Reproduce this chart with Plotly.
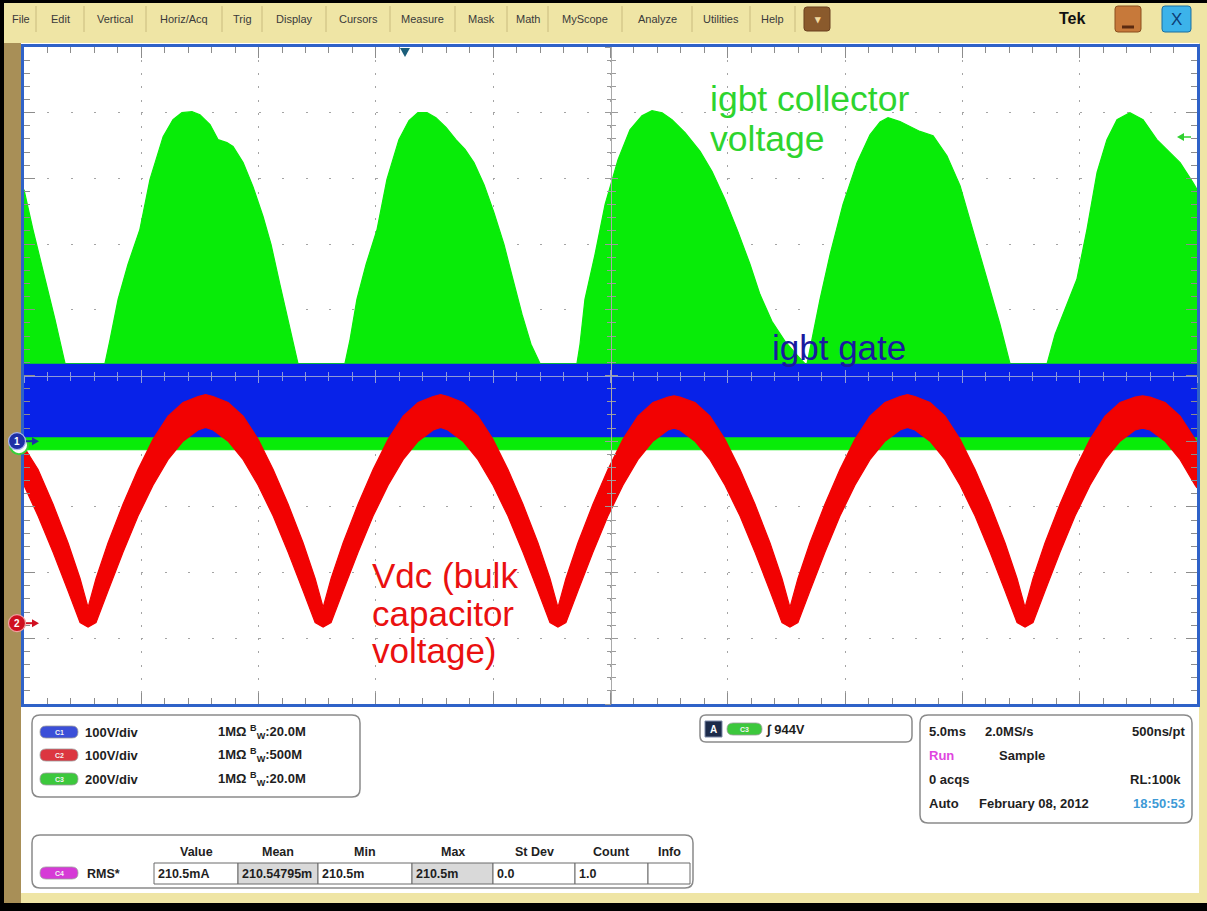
import plotly.graph_objects as go

W, H = 1207, 911

# ---------------- data ----------------
ms_per_div = 5.0          # horizontal scale
record_ms = 50.0          # 10 divisions

# channel settings: volts/div and ground marker position (divisions from centre)
c1_vdiv, c1_pos = 100, -1.00   # blue  : igbt gate
c2_vdiv, c2_pos = 100, -3.77   # red   : Vdc (bulk capacitor voltage)
c3_vdiv, c3_pos = 200, -1.06   # green : igbt collector

# green: upper envelope of the collector voltage (ms, V)
green_t = [0.00, 0.38, 0.90, 1.32, 1.75,
           3.45, 3.67, 4.01, 4.43, 4.94, 5.37, 5.93, 6.35, 6.73, 7.16, 7.50, 7.93, 8.27, 8.65, 8.91, 9.34, 9.76, 10.19, 10.53, 10.91, 11.30, 11.68,
           13.68, 13.90, 14.19, 14.58, 15.05, 15.47, 15.98, 16.41, 16.79, 17.18, 17.56, 17.99, 18.41, 18.80, 19.18, 19.61, 20.03, 20.46, 20.84, 21.23, 21.61, 22.00,
           23.57, 23.70, 23.91, 24.34, 24.77, 25.32, 25.83, 26.34, 26.77, 27.20, 27.62, 28.18, 28.82, 29.33, 29.88, 30.43, 30.95, 31.37, 31.88, 32.44, 32.95, 33.29,
           33.38, 33.59, 33.93, 34.36, 34.91, 35.51, 36.06, 36.49, 36.83, 37.34, 38.19, 38.75, 39.34, 39.90, 40.45, 41.05, 41.60, 42.03,
           43.61, 43.95, 44.37, 44.88, 45.31, 45.74, 46.16, 46.59, 47.14, 47.70, 48.29, 48.72, 49.28, 49.83, 50.00]
green_hi = [778, 657, 505, 383, 248,
            248, 322, 444, 550, 657, 809, 939, 991, 1012, 1015, 1006, 976, 930, 921, 909, 860, 787, 696, 611, 489, 368, 248,
            248, 322, 444, 550, 657, 809, 930, 988, 1012, 1012, 997, 967, 930, 900, 860, 793, 708, 611, 505, 398, 307, 248,
            248, 307, 444, 581, 733, 869, 960, 1003, 1018, 1012, 991, 951, 894, 833, 748, 650, 550, 459, 377, 316, 274, 248,
            248, 322, 444, 581, 733, 860, 945, 984, 997, 985, 955, 942, 881, 790, 657, 505, 368, 248,
            248, 337, 413, 505, 657, 830, 930, 991, 1012, 991, 930, 900, 860, 799, 778]
# green: lower edge of the switching band
green_lo_t = [0.0, 50.0]
green_lo = [-14, -14]

# blue: gate drive band
blue_t = [0.0, 50.0]
blue_hi = [117, 117]
blue_lo = [7, 7]

# red: Vdc ripple band (upper / lower envelope)
red_t = [0.00, 0.60, 1.24, 1.88, 2.39,
         2.73, 3.07, 3.58, 4.22, 4.86, 5.50, 6.14, 6.78, 7.42, 7.74, 8.06, 8.70, 9.34, 9.98, 10.62, 11.26, 11.90, 12.41,
         12.75, 13.09, 13.60, 14.24, 14.88, 15.52, 16.16, 16.80, 17.44, 17.76, 18.07, 18.71, 19.35, 19.99, 20.63, 21.27, 21.91, 22.42,
         22.76, 23.10, 23.61, 24.25, 24.89, 25.53, 26.17, 26.81, 27.45, 27.71, 27.96, 28.60, 29.24, 29.88, 30.52, 31.16, 31.80, 32.31,
         32.65, 32.99, 33.50, 34.14, 34.78, 35.42, 36.06, 36.70, 37.34, 37.66, 37.98, 38.62, 39.26, 39.90, 40.54, 41.18, 41.82, 42.33,
         42.67, 43.01, 43.52, 44.16, 44.80, 45.44, 46.08, 46.72, 47.36, 47.68, 48.00, 48.64, 49.28, 49.92, 50.00]
red_hi = [268, 234, 181, 122, 68,
          24, 68, 122, 181, 234, 280, 315, 336, 345, 348, 345, 336, 315, 280, 234, 181, 122, 68,
          24, 68, 122, 181, 234, 280, 315, 336, 345, 348, 345, 336, 315, 280, 234, 181, 122, 68,
          24, 68, 122, 181, 234, 280, 315, 336, 344, 346, 344, 336, 315, 280, 234, 181, 122, 68,
          24, 68, 122, 181, 234, 280, 315, 336, 345, 348, 345, 336, 315, 280, 234, 181, 122, 68,
          24, 68, 122, 181, 234, 280, 315, 336, 344, 346, 344, 336, 315, 280, 274]
red_lo = [210, 163, 108, 49, 1,
          -6, 1, 49, 108, 163, 210, 249, 277, 294, 298, 294, 277, 249, 210, 163, 108, 49, 1,
          -6, 1, 49, 108, 163, 210, 249, 277, 294, 298, 294, 277, 249, 210, 163, 108, 49, 1,
          -6, 1, 49, 108, 163, 210, 249, 277, 294, 297, 294, 277, 249, 210, 163, 108, 49, 1,
          -6, 1, 49, 108, 163, 210, 249, 277, 294, 298, 294, 277, 249, 210, 163, 108, 49, 1,
          -6, 1, 49, 108, 163, 210, 249, 277, 294, 297, 294, 277, 249, 210, 206]

menu_items = ["File", "Edit", "Vertical", "Horiz/Acq", "Trig", "Display", "Cursors",
              "Measure", "Mask", "Math", "MyScope", "Analyze", "Utilities", "Help"]
ch_names = ["C1", "C2", "C3"]
ch_vdiv_text = ["100V/div", "100V/div", "200V/div"]
ch_bw_text = ["20.0M", "500M", "20.0M"]
meas_headers = ["Value", "Mean", "Min", "Max", "St Dev", "Count", "Info"]
meas_values = ["210.5mA", "210.54795m", "210.5m", "210.5m", "0.0", "1.0", ""]

# ---------------- helpers ----------------
FONT = "Liberation Sans, Arial, sans-serif"
shapes, annos = [], []


def X(x):
    return x / W


def Y(y):
    return 1 - y / H


def rect(x0, y0, x1, y1, fill, line=None, lw=0, layer="below"):
    shapes.append(dict(type="rect", xref="paper", yref="paper",
                       x0=X(x0), x1=X(x1), y0=Y(y1), y1=Y(y0),
                       fillcolor=fill, line=dict(color=line or fill, width=lw), layer=layer))


def rrect(x0, y0, x1, y1, r, fill, line=None, lw=0, layer="below"):
    def P(x, y):
        return f"{X(x):.5f},{Y(y):.5f}"
    path = (f"M{P(x0 + r, y0)} L{P(x1 - r, y0)} Q{P(x1, y0)} {P(x1, y0 + r)} "
            f"L{P(x1, y1 - r)} Q{P(x1, y1)} {P(x1 - r, y1)} L{P(x0 + r, y1)} "
            f"Q{P(x0, y1)} {P(x0, y1 - r)} L{P(x0, y0 + r)} Q{P(x0, y0)} {P(x0 + r, y0)} Z")
    shapes.append(dict(type="path", xref="paper", yref="paper", path=path,
                       fillcolor=fill, line=dict(color=line or fill, width=lw), layer=layer))


def poly(pts, fill, line=None, lw=0, layer="above"):
    path = "M" + " L".join(f"{X(x):.5f},{Y(y):.5f}" for x, y in pts) + " Z"
    shapes.append(dict(type="path", xref="paper", yref="paper", path=path,
                       fillcolor=fill, line=dict(color=line or fill, width=lw), layer=layer))


def seg(x0, y0, x1, y1, color, lw=1, layer="below"):
    shapes.append(dict(type="line", xref="paper", yref="paper",
                       x0=X(x0), x1=X(x1), y0=Y(y0), y1=Y(y1),
                       line=dict(color=color, width=lw), layer=layer))


def circ(cx, cy, r, fill, line, lw=1, layer="above"):
    shapes.append(dict(type="circle", xref="paper", yref="paper",
                       x0=X(cx - r), x1=X(cx + r), y0=Y(cy + r), y1=Y(cy - r),
                       fillcolor=fill, line=dict(color=line, width=lw), layer=layer))


def txt(x, y, s, size=13, color="#1e1e1e", weight=700, anchor="left"):
    annos.append(dict(xref="paper", yref="paper", x=X(x), y=Y(y), text=s, showarrow=False,
                      xanchor=anchor, yanchor="middle", borderpad=0,
                      font=dict(family=FONT, size=size, color=color, weight=weight)))


def pill(x0, x1, yc, color, label):
    rrect(x0, yc - 6, x1, yc + 6, 6, color, "#9a9a9a", 0.8)
    txt((x0 + x1) / 2, yc, label, size=7, color="#f4f4f4", anchor="center")


# ---------------- frame / background ----------------
rect(0, 0, W, 3, "#000000")
rect(0, 0, 4, H, "#000000")
rect(0, 903, W, H, "#000000")
rect(4, 43, 21, 903, "#a88f57")
rect(21, 43, 1199, 893, "#ffffff")

# menu bar
seps = [36, 84, 146, 222, 262, 326, 390, 455, 507, 548, 622, 692, 750, 795]
edges = [5] + seps
for i, name in enumerate(menu_items):
    txt((edges[i] + edges[i + 1]) / 2, 19, name, size=11, color="#3a3a3a", weight=400, anchor="center")
for s in seps:
    seg(s, 6, s, 32, "#c9bb7e", 1)
rrect(804, 7, 830, 31, 3, "#8a5a2c", "#6a4020", 1)
txt(817, 19, "▾", size=11, color="#f2d9a0", weight=700, anchor="center")
txt(1072, 18, "Tek", size=16, color="#111111", weight=700, anchor="center")
rrect(1115, 6, 1141, 32, 3, "#c7793a", "#8a4f1e", 1)
seg(1122, 27, 1134, 27, "#5a2a10", 3)
rrect(1162, 6, 1191, 32, 3, "#3cb3ea", "#1b6fa0", 1)
txt(1176.5, 20, "X", size=17, color="#0d3d75", weight=400, anchor="center")

# ---------------- plot geometry ----------------
xd = [24 / W, 1197 / W]
yd = [1 - 704 / H, 1 - 47 / H]
xc = (xd[0] + xd[1]) / 2
yc = (yd[0] + yd[1]) / 2
div_px_x = (1197 - 24) / 10
div_px_y = (704 - 47) / 10

fig = go.Figure()

fig.add_trace(go.Scatter(x=green_t + green_lo_t[::-1], y=green_hi + green_lo[::-1],
                         mode="lines", fill="toself", fillcolor="#08ec08",
                         line=dict(color="#08ec08", width=1.2), xaxis="x", yaxis="y2",
                         hoverinfo="skip", name="C3"))
fig.add_trace(go.Scatter(x=blue_t + blue_t[::-1], y=blue_hi + blue_lo[::-1],
                         mode="lines", fill="toself", fillcolor="#0822e8",
                         line=dict(color="#0822e8", width=1.2), xaxis="x", yaxis="y3",
                         hoverinfo="skip", name="C1"))
fig.add_trace(go.Scatter(x=red_t + red_t[::-1], y=red_hi + red_lo[::-1],
                         mode="lines", fill="toself", fillcolor="#f20202",
                         line=dict(color="#f20202", width=1.2), xaxis="x", yaxis="y4",
                         hoverinfo="skip", name="C2"))
# empty traces that only carry the graticule axes
for xa, ya in [("x", "y"), ("x", "y5"), ("x", "y6"), ("x2", "y"), ("x3", "y")]:
    fig.add_trace(go.Scatter(x=[], y=[], xaxis=xa, yaxis=ya, hoverinfo="skip"))

TICK = "#8c8c8c"
BORDER = "#2f62c8"
base = dict(showticklabels=False, zeroline=False, fixedrange=True)

xaxis = dict(base, domain=xd, range=[0, record_ms], tick0=0, dtick=ms_per_div,
             showgrid=True, gridcolor="#a4a4a4", gridwidth=1,
             griddash=f"2px,{div_px_y / 5 - 2:.2f}px",
             ticks="inside", ticklen=11, tickwidth=1, tickcolor=TICK,
             minor=dict(dtick=ms_per_div / 5, ticks="inside", ticklen=6, tickcolor=TICK, showgrid=False),
             showline=True, linecolor=BORDER, linewidth=3, mirror="ticks", anchor="y")
yaxis = dict(base, domain=yd, range=[-5, 5], tick0=0, dtick=1,
             showgrid=True, gridcolor="#a4a4a4", gridwidth=1,
             griddash=f"2px,{div_px_x / 5 - 2:.2f}px",
             ticks="inside", ticklen=11, tickwidth=1, tickcolor=TICK,
             minor=dict(dtick=0.2, ticks="inside", ticklen=6, tickcolor=TICK, showgrid=False),
             showline=True, linecolor=BORDER, linewidth=3, mirror="ticks", anchor="x")


def ch_axis(vdiv, pos):
    return dict(base, overlaying="y", range=[(-5 - pos) * vdiv, (5 - pos) * vdiv], visible=False)


centre_y = dict(base, overlaying="y", anchor="free", position=xc, range=[-5, 5], tick0=0, dtick=1,
                showgrid=False, showline=True, linecolor="#a9a9a9", linewidth=1,
                ticklen=6, tickcolor="#9a9a9a",
                minor=dict(dtick=0.2, ticklen=4, tickcolor="#9a9a9a", showgrid=False))
centre_x = dict(base, overlaying="x", anchor="free", position=yc, range=[0, record_ms], tick0=0,
                dtick=ms_per_div, showgrid=False, showline=True, linecolor="#8e9ad8", linewidth=1,
                ticklen=6, tickcolor="#8e9ad8",
                minor=dict(dtick=ms_per_div / 5, ticklen=4, tickcolor="#8e9ad8", showgrid=False))

fig.update_layout(
    xaxis=xaxis, yaxis=yaxis,
    yaxis2=ch_axis(c3_vdiv, c3_pos),
    yaxis3=ch_axis(c1_vdiv, c1_pos),
    yaxis4=ch_axis(c2_vdiv, c2_pos),
    yaxis5=dict(centre_y, ticks="outside", minor=dict(centre_y["minor"], ticks="outside")),
    yaxis6=dict(centre_y, ticks="inside", minor=dict(centre_y["minor"], ticks="inside")),
    xaxis2=dict(centre_x, ticks="outside", minor=dict(centre_x["minor"], ticks="outside")),
    xaxis3=dict(centre_x, ticks="inside", minor=dict(centre_x["minor"], ticks="inside")),
)


# ---------------- markers on the graticule ----------------
def ground_py(pos):
    return 47 + (5 - pos) * div_px_y


g1 = ground_py(c1_pos)
g2 = ground_py(c2_pos)
g3 = ground_py(c3_pos)
circ(19, g3, 9, "#ffffff", "#38d038", 2)
circ(17, g1, 8.5, "#1f2fa5", "#a9b6ee", 1.2)
txt(17, g1, "1", size=10, color="#ffffff", anchor="center")
seg(26, g1, 33, g1, "#1f2fa5", 2, layer="above")
poly([(32, g1 - 4), (39, g1), (32, g1 + 4)], "#1f2fa5")
circ(17, g2, 8.5, "#cf1020", "#f0a0a0", 1.2)
txt(17, g2, "2", size=10, color="#ffffff", anchor="center")
seg(26, g2, 33, g2, "#d01020", 2, layer="above")
poly([(32, g2 - 4), (39, g2), (32, g2 + 4)], "#d01020")
# trigger level (right) and trigger position (top)
poly([(1177, 137), (1184, 133), (1184, 141)], "#2fd02f")
seg(1183, 137, 1191, 137, "#2fd02f", 1.5, layer="above")
poly([(400, 48), (410, 48), (405, 57)], "#1b5e7a")

# ---------------- annotations on the traces ----------------
txt(709, 99, "igbt collector", size=35.5, color="#2ed42e", weight=400)
txt(709, 139, "voltage", size=35.5, color="#2ed42e", weight=400)
txt(771, 348, "igbt gate", size=35, color="#1a1aa0", weight=400)
txt(371, 575, "Vdc (bulk", size=35, color="#ea1010", weight=400)
txt(371, 613, "capacitor", size=35, color="#ea1010", weight=400)
txt(371, 650, "voltage)", size=35, color="#ea1010", weight=400)

# ---------------- lower information panels ----------------
rrect(32, 715, 360, 797, 8, "#ffffff", "#8a8a8a", 1.5)
pill_cols = ["#3b4fd8", "#dc3640", "#3cc83c"]
for i, yrow in enumerate([732, 755, 779]):
    pill(40, 78, yrow, pill_cols[i], ch_names[i])
    txt(84, yrow, ch_vdiv_text[i])
    txt(217, yrow, "1MΩ <sup>B</sup><sub>W</sub>:" + ch_bw_text[i])

rrect(700, 715, 912, 742, 6, "#ffffff", "#8a8a8a", 1.5)
rect(705, 721, 722, 737, "#1c2b4a", "#7d8aa8", 1)
txt(713.5, 729, "A", size=10, color="#ffffff", anchor="center")
pill(727, 762, 729, "#3cc83c", "C3")
txt(765, 729, "∫ 944V")

rrect(920, 715, 1192, 823, 8, "#ffffff", "#8a8a8a", 1.5)
txt(928, 731, "5.0ms")
txt(984, 731, "2.0MS/s")
txt(1186, 731, "500ns/pt", anchor="right")
txt(928, 755, "Run", color="#e045e0")
txt(998, 755, "Sample")
txt(928, 779, "0 acqs")
txt(1182, 779, "RL:100k", anchor="right")
txt(928, 803, "Auto")
txt(978, 803, "February 08, 2012")
txt(1186, 803, "18:50:53", color="#3d9ad6", anchor="right")

rrect(32, 835, 693, 888, 8, "#ffffff", "#8a8a8a", 1.5)
cells = [154, 238, 318, 412, 493, 575, 648, 690]
gray_cells = {1, 3}
for i in range(7):
    rect(cells[i], 863, cells[i + 1], 884, "#d9d9d9" if i in gray_cells else "#ffffff", "#6a6a6a", 1)
    txt((cells[i] + cells[i + 1]) / 2, 852, meas_headers[i], size=12.5, anchor="center")
    if meas_values[i]:
        txt(cells[i] + 3, 873.5, meas_values[i], size=12.5)
pill(40, 78, 873, "#d63ad6", "C4")
txt(86, 873.5, "RMS*", size=12.5)

fig.update_layout(
    width=W, height=H, margin=dict(l=0, r=0, t=0, b=0),
    paper_bgcolor="#efe5a5", plot_bgcolor="#ffffff",
    showlegend=False, shapes=shapes, annotations=annos, hovermode=False,
)
fig.write_html("out.html")
